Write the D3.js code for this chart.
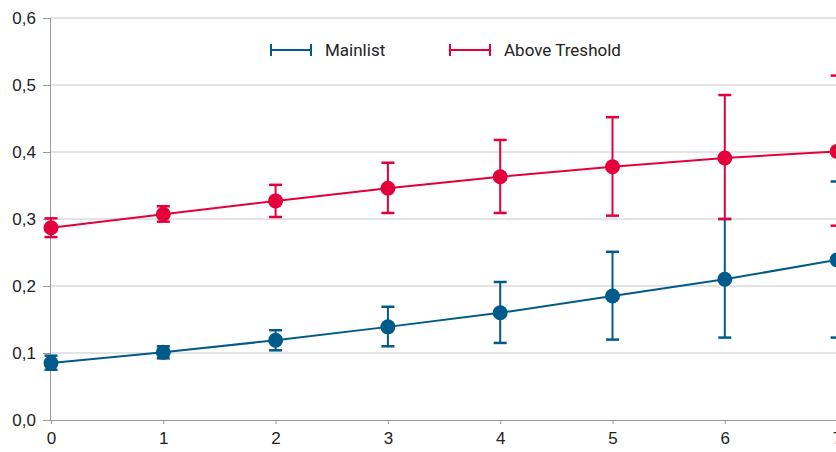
<!DOCTYPE html>
<html>
<head>
<meta charset="utf-8">
<script src="https://cdn.jsdelivr.net/npm/d3@7"></script>
<style>
  body { margin: 0; background: #fff; }
  svg { display: block; font-family: Roboto, "Noto Sans", sans-serif; }
</style>
</head>
<body>
<div id="chart"></div>
<script>
// data
var xValues = [0, 1, 2, 3, 4, 5, 6, 7];
var mainlist      = [0.085, 0.101, 0.119, 0.139, 0.160, 0.185, 0.210, 0.239];
var mainlistLow   = [0.075, 0.092, 0.104, 0.110, 0.115, 0.120, 0.123, 0.123];
var mainlistHigh  = [0.096, 0.110, 0.134, 0.169, 0.206, 0.251, 0.300, 0.356];
var above         = [0.287, 0.307, 0.327, 0.346, 0.363, 0.378, 0.391, 0.401];
var aboveLow      = [0.273, 0.296, 0.303, 0.309, 0.309, 0.305, 0.300, 0.290];
var aboveHigh     = [0.301, 0.319, 0.351, 0.384, 0.418, 0.452, 0.485, 0.514];
var yTicks = [0, 0.1, 0.2, 0.3, 0.4, 0.5, 0.6];

var series = [
  {name: "Mainlist", color: "#005b8a", v: mainlist, lo: mainlistLow, hi: mainlistHigh},
  {name: "Above Treshold", color: "#e4003a", v: above, lo: aboveLow, hi: aboveHigh}
];

var width = 836, height = 452;
var margin = {top: 18, left: 51, bottom: 32};

var svg = d3.select("#chart").append("svg")
    .attr("width", width)
    .attr("height", height);

var x = d3.scaleLinear()
    .domain([0, 7])
    .range([margin.left, margin.left + 7 * 112.3]);

var y = d3.scaleLinear()
    .domain([0, 0.6])
    .range([height - margin.bottom, margin.top]);

var fmt = function(d) { return d3.format(".1f")(d).replace(".", ","); };

// grid lines
svg.append("g")
  .selectAll("line")
  .data(yTicks.filter(function(d) { return d > 0; }))
  .enter().append("line")
    .attr("x1", 50).attr("x2", width)
    .attr("y1", function(d) { return y(d); })
    .attr("y2", function(d) { return y(d); })
    .attr("stroke", "#c8c8c8")
    .attr("stroke-width", 1);

// y axis
var yAxis = svg.append("g")
    .attr("transform", "translate(50,0)")
    .call(d3.axisLeft(y).tickValues(yTicks).tickFormat(fmt).tickSize(7).tickPadding(7));
yAxis.select(".domain").attr("stroke", "#999");
yAxis.selectAll(".tick line").attr("stroke", "#999");
yAxis.selectAll("text").attr("font-size", 17).attr("fill", "#222");

// x axis
var xAxis = svg.append("g")
    .attr("transform", "translate(0," + y(0) + ")")
    .call(d3.axisBottom(x).tickValues(xValues).tickFormat(d3.format("d"))
      .tickSize(4).tickPadding(8).tickSizeOuter(0));
xAxis.select(".domain").attr("stroke", "#999").attr("d", "M43,0.5H" + width);
xAxis.selectAll(".tick line").attr("stroke", "#999");
xAxis.selectAll("text").attr("font-size", 17).attr("fill", "#222");

var line = d3.line()
    .x(function(d, i) { return x(xValues[i]); })
    .y(function(d) { return y(d); });

series.forEach(function(s) {
  var g = svg.append("g");

  // error bars
  xValues.forEach(function(xv, i) {
    var cx = x(xv);
    g.append("line")
        .attr("x1", cx).attr("x2", cx)
        .attr("y1", y(s.lo[i])).attr("y2", y(s.hi[i]))
        .attr("stroke", s.color).attr("stroke-width", 2);
    [s.lo[i], s.hi[i]].forEach(function(v) {
      g.append("line")
          .attr("x1", cx - 6.5).attr("x2", cx + 6.5)
          .attr("y1", y(v)).attr("y2", y(v))
          .attr("stroke", s.color).attr("stroke-width", 2.5);
    });
  });

  g.append("path")
      .datum(s.v)
      .attr("d", line)
      .attr("fill", "none")
      .attr("stroke", s.color)
      .attr("stroke-width", 2);

  g.selectAll("circle")
    .data(s.v)
    .enter().append("circle")
      .attr("cx", function(d, i) { return x(xValues[i]); })
      .attr("cy", function(d) { return y(d); })
      .attr("r", 7.5)
      .attr("fill", s.color);
});

// legend
var legendX = [270, 449];
var legend = svg.append("g");
series.forEach(function(s, i) {
  var lx = legendX[i], ly = 50;
  legend.append("line")
      .attr("x1", lx).attr("x2", lx + 42).attr("y1", ly).attr("y2", ly)
      .attr("stroke", s.color).attr("stroke-width", 2);
  [lx + 1, lx + 41].forEach(function(tx) {
    legend.append("line")
        .attr("x1", tx).attr("x2", tx).attr("y1", ly - 6).attr("y2", ly + 6)
        .attr("stroke", s.color).attr("stroke-width", 2);
  });
  legend.append("text")
      .attr("x", lx + 55)
      .attr("y", ly)
      .attr("dy", "0.35em")
      .attr("font-size", 17)
      .attr("fill", "#222")
      .text(s.name);
});
</script>
</body>
</html>
